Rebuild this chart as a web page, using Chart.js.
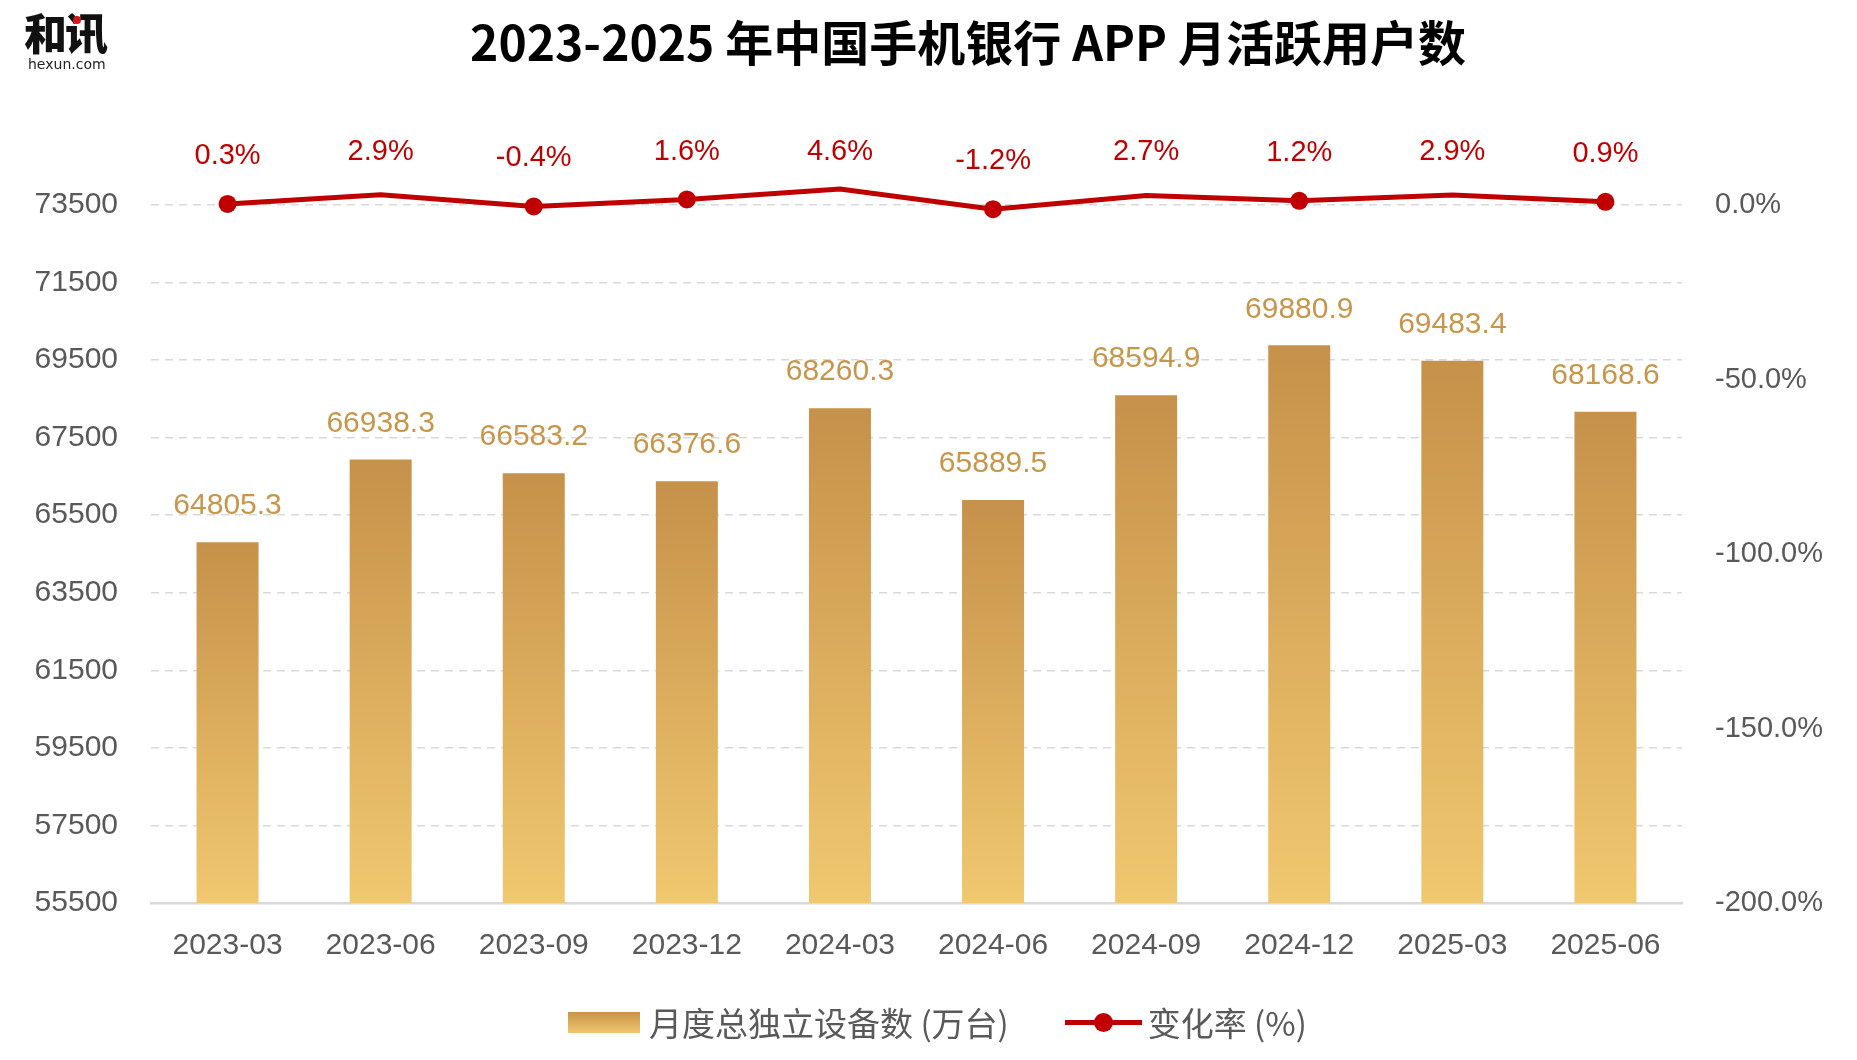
<!DOCTYPE html>
<html>
<head>
<meta charset="utf-8">
<script src="https://cdn.jsdelivr.net/npm/chart.js@4/dist/chart.umd.min.js"></script>
<style>
  html, body { margin: 0; padding: 0; background: #fff; }
  #wrap { position: relative; width: 1857px; height: 1060px; overflow: hidden; }
  #chart { position: absolute; left: 0; top: 0; }
  .title {
    position: absolute; left: 968px; top: 40px; transform: translate(-50%, -50%);
    font: 700 48px "Noto Sans CJK SC", sans-serif; color: #000; white-space: nowrap;
  }
  .logo { position: absolute; left: 24px; top: 7px; }
  .logo .cn { font: 900 43px/48px "Noto Sans CJK SC", sans-serif; color: #111; letter-spacing: -2px; }
  .logo .dot { position: absolute; left: 49px; top: 9px; width: 8px; height: 8px; border-radius: 50%; background: #d7141a; }
  .logo .en { font: 400 14px/14px "DejaVu Sans", sans-serif; color: #222; margin-left: 4px; margin-top: 2px; }
  .legend {
    position: absolute; top: 1022px; left: 568px; transform: translateY(-50%);
    display: flex; align-items: center; white-space: nowrap;
    font: 400 33px "Noto Sans CJK SC", sans-serif; color: #595959;
  }
  .legend .box { width: 72px; height: 21px; background: linear-gradient(#c8944a, #efc66e); margin-right: 9px; }
  .legend .ln { position: relative; width: 77px; height: 5px; background: #c00000; margin-left: 56px; margin-right: 6px; }
  .legend .ln::after {
    content: ""; position: absolute; left: 29px; top: -7px; width: 19px; height: 19px;
    border-radius: 50%; background: #c00000;
  }
</style>
</head>
<body>
<div id="wrap">
  <canvas id="chart" width="1857" height="1060"></canvas>
  <div class="logo"><div class="cn">和讯</div><div class="dot"></div><div class="en">hexun.com</div></div>
  <div class="title">2023-2025 年中国手机银行 APP 月活跃用户数</div>
  <div class="legend">
    <span class="box"></span><span>月度总独立设备数 (万台)</span>
    <span class="ln"></span><span>变化率 (%)</span>
  </div>
</div>
<script>
const quarters   = ['2023-03', '2023-06', '2023-09', '2023-12', '2024-03', '2024-06', '2024-09', '2024-12', '2025-03', '2025-06'];
const devices    = [64805.3, 66938.3, 66583.2, 66376.6, 68260.3, 65889.5, 68594.9, 69880.9, 69483.4, 68168.6];
const changeRate = [0.3, 2.9, -0.4, 1.6, 4.6, -1.2, 2.7, 1.2, 2.9, 0.9];

const axisFont  = { family: '"Liberation Sans", Arial, sans-serif', size: 29 };
const axisColor = '#595959';
const gridCol   = '#d9d9d9';

// vertical gold gradient, one per bar, from its top down to the baseline
function barGradient(ctx) {
  const chart = ctx.chart;
  const area  = chart.chartArea;
  if (!area || ctx.type !== 'data') return '#d9ad5c';
  const yTop = chart.scales.y.getPixelForValue(ctx.raw);
  const g = chart.ctx.createLinearGradient(0, yTop, 0, area.bottom);
  g.addColorStop(0, '#c6914a');
  g.addColorStop(1, '#f0c86f');
  return g;
}

const valueLabels = {
  id: 'valueLabels',
  afterDatasetsDraw(chart) {
    const { ctx, chartArea } = chart;
    ctx.save();
    ctx.textAlign    = 'center';
    ctx.textBaseline = 'middle';
    ctx.font = '30px "Liberation Sans", Arial, sans-serif';

    ctx.fillStyle = '#c8964a';
    chart.getDatasetMeta(0).data.forEach((bar, i) => {
      ctx.fillText(devices[i].toFixed(1), bar.x, bar.y - 36);
    });

    ctx.font = '29px "Liberation Sans", Arial, sans-serif';
    ctx.fillStyle = '#c00000';
    chart.getDatasetMeta(1).data.forEach((pt, i) => {
      const y = Math.max(chartArea.top - 53, pt.y - 48);
      ctx.fillText(changeRate[i].toFixed(1) + '%', pt.x, y);
    });
    ctx.restore();
  },
};

new Chart(document.getElementById('chart'), {
  type: 'bar',
  data: {
    labels: quarters,
    datasets: [
      {
        label: '月度总独立设备数 (万台)',
        data: devices,
        yAxisID: 'y',
        backgroundColor: barGradient,
        categoryPercentage: 1,
        barPercentage: 0.405,
        order: 2,
      },
      {
        type: 'line',
        label: '变化率 (%)',
        data: changeRate,
        yAxisID: 'y1',
        borderColor: '#c00000',
        backgroundColor: '#c00000',
        borderWidth: 5,
        pointRadius: 9,
        pointBorderWidth: 0,
        tension: 0,
        clip: false,
        order: 1,
      },
    ],
  },
  options: {
    responsive: false,
    animation: false,
    layout: { padding: { top: 205, left: 0, right: 0, bottom: 0 } },
    plugins: { legend: { display: false }, tooltip: { enabled: false } },
    scales: {
      x: {
        offset: true,
        grid: { display: false },
        border: { display: true, color: gridCol, width: 2.5 },
        ticks: { color: axisColor, font: { ...axisFont, size: 30 }, padding: 17, maxRotation: 0 },
        afterFit(s) { s.height = 157; },
      },
      y: {
        position: 'left',
        min: 55500,
        max: 73500,
        grid: {
          drawTicks: false,
          lineWidth: 1.5,
          color: c => (c.tick && c.tick.value === 55500 ? 'rgba(0,0,0,0)' : gridCol),
        },
        border: { display: false, dash: [8, 6] },
        ticks: { stepSize: 2000, color: axisColor, font: { ...axisFont, size: 30 }, padding: 33, callback: v => String(v) },
        afterFit(s) { s.width = 151; },
      },
      y1: {
        position: 'right',
        min: -200,
        max: 0,
        grid: { display: false, drawTicks: false },
        border: { display: false },
        ticks: {
          stepSize: 50,
          color: axisColor,
          font: axisFont,
          padding: 33,
          callback: v => v.toFixed(1) + '%',
        },
        afterFit(s) { s.width = 175; },
      },
    },
  },
  plugins: [valueLabels],
});
</script>
</body>
</html>
